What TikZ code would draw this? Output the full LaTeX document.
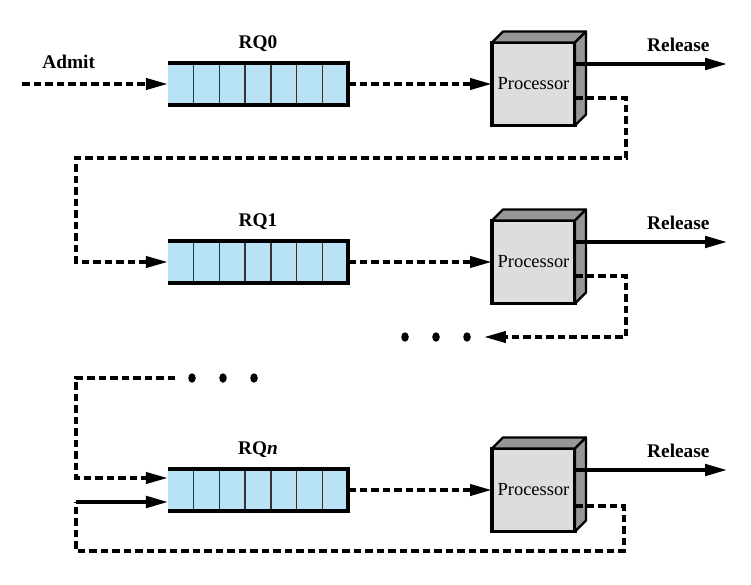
\documentclass[tikz,border=0pt]{standalone}
\usepackage{fontspec}
\setmainfont{Liberation Serif}
\usepackage{xcolor}
\usepackage{tikz}
\usetikzlibrary{arrows.meta,positioning,calc}

\definecolor{qblue}{RGB}{184,227,247}
\definecolor{cpugray}{RGB}{220,221,223}
\definecolor{sidegray}{RGB}{150,150,152}

\begin{document}
\begin{tikzpicture}[
    x=0.2mm, y=-0.2mm,
    queue/.style={rectangle, fill=qblue, minimum width=36mm, minimum height=8.4mm, inner sep=0pt, outer sep=0pt},
    cpu/.style={rectangle, draw, line width=0.7mm, fill=cpugray, minimum width=16.6mm, minimum height=16.6mm, inner sep=0pt, outer sep=0pt, font=\fontsize{10.5}{12}\selectfont},
    face/.style={fill=sidegray, draw, line width=0.45mm, line join=round},
    lbl/.style={font=\fontsize{11}{13}\selectfont\bfseries},
    ellip/.style={minimum width=19mm, inner sep=0pt},
    dashline/.style={line width=0.75mm, dash pattern=on 1.5mm off 0.8mm},
    flow/.style={dashline, -{Triangle[length=4.4mm, width=2.2mm]}},
    exit/.style={-{Triangle[length=4.4mm, width=2.3mm]}, line width=0.7mm}
]
\useasboundingbox (0,0) rectangle (751,585);

% ready queues and processors
\node[queue] (rq0) at (258,84) {};
\node[queue] (rq1) at (258,262) {};
\node[queue] (rqn) at (258,490) {};
\node[cpu, right=28.8mm of rq0] (p0) {Processor};
\node[cpu, right=28.8mm of rq1] (p1) {Processor};
\node[cpu, right=28.8mm of rqn] (pn) {Processor};

\node[lbl, above=1mm of rq0] (rq0lbl) {RQ0};
\node[lbl, above=1mm of rq1] (rq1lbl) {RQ1};
\node[lbl, above=1mm of rqn] (rqnlbl) {RQ\textit{n}};

\foreach \q in {rq0,rq1,rqn} {
  \foreach \i in {1,...,6}
    \draw[line width=0.3mm, black!80] ($(\q.south west)!\i/7!(\q.south east)$) -- ($(\q.north west)!\i/7!(\q.north east)$);
  \draw[line width=0.7mm] (\q.north west) -- (\q.north east) -- (\q.south east) -- (\q.south west);
}

\foreach \p in {p0,p1,pn} {
  \filldraw[face] (\p.north west) -- ++(11,-11) -- ([shift={(11,-11)}]\p.north east) -- (\p.north east) -- cycle;
  \filldraw[face] (\p.north east) -- ++(11,-11) -- ([shift={(11,-11)}]\p.south east) -- (\p.south east) -- cycle;
}

% dots
\node[ellip] (dots1) at (436,337) {};
\node[ellip] (dots2) at (223,378) {};
\foreach \d in {dots1,dots2}
  \foreach \dx in {-31,0,31}
    \fill ($(\d)+(\dx,0)$) ellipse [x radius=0.75mm, y radius=0.95mm];

% turning points
\coordinate (admit) at (22,84);
\coordinate (rel0) at (727,64);
\coordinate (rel1) at (727,242);
\coordinate (reln) at (727,470);
\coordinate (turn0) at (626,158);
\coordinate (lane0) at (76,158);
\coordinate (turn1) at (626,337);
\coordinate (lane1) at (76,378);
\coordinate (turnn) at (624,551);
\coordinate (lanen) at (76,502);

\draw[flow] (admit) -- node[lbl, above=1.5mm, pos=0.32] (admitlbl) {Admit} (rq0.west);
\draw[flow] (rq0.east) -- (p0.west);
\draw[flow] (rq1.east) -- (p1.west);
\draw[flow] (rqn.east) -- (pn.west);

\draw[exit] (p0.east |- rel0) -- node[lbl, above=1mm, pos=0.68] (rl0) {Release} (rel0);
\draw[exit] (p1.east |- rel1) -- node[lbl, above=1mm, pos=0.68] (rl1) {Release} (rel1);
\draw[exit] (pn.east |- reln) -- node[lbl, above=1mm, pos=0.68] (rln) {Release} (reln);

\draw[flow] ([shift={(0,14)}]p0.east) -| (turn0) -- (lane0) |- (rq1.west);
\draw[flow] ([shift={(0,14)}]p1.east) -| (turn1) -- (dots1.east);
\draw[flow] (dots2.west) -- (lane1) |- ([shift={(0,-12)}]rqn.west);
\draw[dashline] ([shift={(0,16)}]pn.east) -| (turnn) -| (lanen);
\draw[exit] (lanen) -- ([shift={(0,12)}]rqn.west);
\end{tikzpicture}
\end{document}
